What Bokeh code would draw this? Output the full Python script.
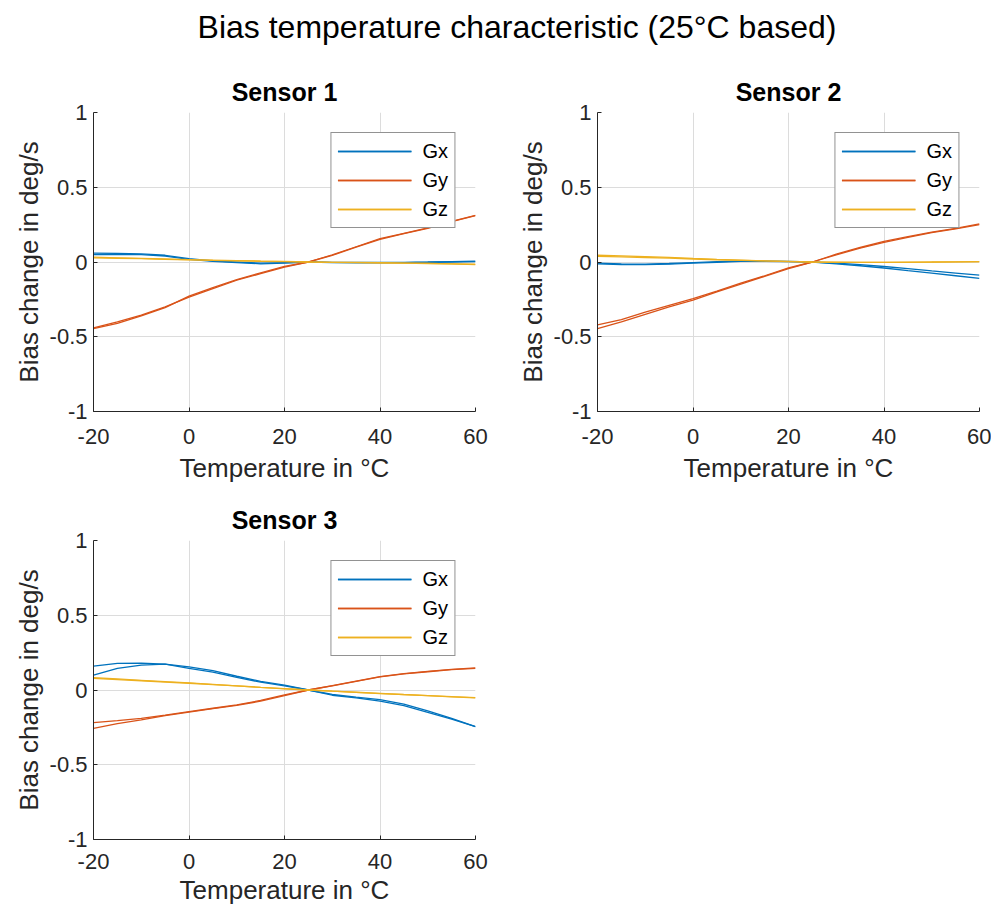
from bokeh.plotting import figure
from bokeh.models import Div, FixedTicker, Legend, LegendItem, Range1d
from bokeh.layouts import column, row
from bokeh.embed import file_html
from bokeh.resources import INLINE

# ---------------- data ----------------
temps = [-20, -15, -10, -5, 0, 5, 10, 15, 20, 25, 30, 35, 40, 45, 50, 55, 60]

# Sensor 1 (two runs each)
s1_gx_a = [0.060, 0.058, 0.055, 0.045, 0.022, 0.008, 0.000, -0.008, -0.004, 0.000, -0.002, -0.003, -0.003, -0.002, 0.000, 0.003, 0.006]
s1_gx_b = [0.050, 0.052, 0.050, 0.040, 0.018, 0.004, -0.004, -0.012, -0.008, 0.000, -0.004, -0.005, -0.005, -0.004, -0.002, 0.000, 0.003]
s1_gy_a = [-0.440, -0.400, -0.355, -0.300, -0.235, -0.178, -0.122, -0.078, -0.035, 0.000, 0.047, 0.102, 0.156, 0.192, 0.228, 0.272, 0.312]
s1_gy_b = [-0.445, -0.410, -0.360, -0.305, -0.228, -0.172, -0.118, -0.072, -0.030, 0.000, 0.045, 0.100, 0.152, 0.190, 0.225, 0.270, 0.310]
s1_gz_a = [0.032, 0.028, 0.024, 0.020, 0.016, 0.012, 0.009, 0.006, 0.004, 0.000, -0.002, -0.003, -0.005, -0.007, -0.009, -0.012, -0.015]
s1_gz_b = [0.028, 0.025, 0.022, 0.018, 0.014, 0.011, 0.008, 0.005, 0.003, 0.000, -0.002, -0.004, -0.006, -0.008, -0.010, -0.013, -0.017]

# Sensor 2
s2_gx_a = [-0.008, -0.012, -0.014, -0.010, -0.004, 0.002, 0.006, 0.006, 0.004, 0.000, -0.008, -0.018, -0.030, -0.045, -0.060, -0.074, -0.088]
s2_gx_b = [-0.012, -0.018, -0.018, -0.014, -0.008, -0.002, 0.004, 0.004, 0.003, 0.000, -0.012, -0.025, -0.040, -0.058, -0.075, -0.092, -0.110]
s2_gy_a = [-0.420, -0.385, -0.335, -0.290, -0.245, -0.195, -0.142, -0.092, -0.040, 0.000, 0.052, 0.097, 0.138, 0.170, 0.200, 0.225, 0.255]
s2_gy_b = [-0.445, -0.400, -0.350, -0.300, -0.255, -0.200, -0.148, -0.096, -0.044, 0.000, 0.048, 0.093, 0.132, 0.165, 0.196, 0.222, 0.250]
s2_gz_a = [0.045, 0.041, 0.036, 0.031, 0.024, 0.018, 0.013, 0.008, 0.004, 0.000, -0.002, -0.003, -0.003, -0.002, -0.001, 0.001, 0.002]
s2_gz_b = [0.038, 0.034, 0.030, 0.026, 0.020, 0.015, 0.011, 0.007, 0.003, 0.000, -0.001, -0.002, -0.002, -0.001, 0.000, 0.001, 0.002]

# Sensor 3
s3_gx_a = [0.160, 0.178, 0.180, 0.173, 0.155, 0.130, 0.092, 0.058, 0.033, 0.000, -0.030, -0.048, -0.065, -0.095, -0.140, -0.190, -0.245]
s3_gx_b = [0.100, 0.145, 0.167, 0.173, 0.145, 0.120, 0.085, 0.052, 0.028, 0.000, -0.035, -0.052, -0.075, -0.105, -0.150, -0.195, -0.245]
s3_gy_a = [-0.218, -0.205, -0.190, -0.168, -0.145, -0.122, -0.100, -0.070, -0.033, 0.000, 0.030, 0.060, 0.090, 0.110, 0.125, 0.138, 0.148]
s3_gy_b = [-0.256, -0.225, -0.200, -0.172, -0.148, -0.125, -0.103, -0.075, -0.038, 0.000, 0.028, 0.058, 0.088, 0.108, 0.122, 0.136, 0.145]
s3_gz_a = [0.082, 0.074, 0.065, 0.056, 0.047, 0.038, 0.028, 0.018, 0.009, 0.000, -0.008, -0.015, -0.022, -0.030, -0.037, -0.044, -0.051]
s3_gz_b = [0.078, 0.070, 0.062, 0.053, 0.045, 0.036, 0.027, 0.017, 0.008, 0.000, -0.008, -0.016, -0.024, -0.031, -0.038, -0.046, -0.053]

series_names = ["Gx", "Gy", "Gz"]
colors = ["#0072BD", "#D95319", "#EDB120"]
x_ticks = [-20, 0, 20, 40, 60]
x_tick_labels = ["-20", "0", "20", "40", "60"]
y_ticks = [-1, -0.5, 0, 0.5, 1]
y_tick_labels = ["-1", "-0.5", "0", "0.5", "1"]

FONT = "Liberation Sans"
TXT = "#262626"


def make(title, runs, tb, bb, lb, rb, tick_standoff, ax_standoff):
    p = figure(width=lb + 382 + rb, height=tb + 299 + bb,
               x_range=Range1d(-20, 60), y_range=Range1d(-1, 1),
               output_backend="svg", toolbar_location=None,
               min_border_left=lb, min_border_right=rb,
               min_border_top=tb, min_border_bottom=bb)
    p.title.text = title
    p.title.align = "center"
    p.title.text_font = FONT
    p.title.text_font_size = "25px"
    p.title.text_font_style = "bold"
    p.title.text_color = "#000000"
    p.title.standoff = 14
    p.outline_line_color = None
    p.background_fill_color = "white"
    p.border_fill_color = "white"

    p.xaxis.ticker = FixedTicker(ticks=x_ticks)
    p.xaxis.major_label_overrides = {v: s for v, s in zip(x_ticks, x_tick_labels)}
    p.yaxis.ticker = FixedTicker(ticks=y_ticks)
    p.yaxis.major_label_overrides = {v: s for v, s in zip(y_ticks, y_tick_labels)}
    for ax in (p.xaxis[0], p.yaxis[0]):
        ax.major_tick_in = 4
        ax.major_tick_out = 0
        ax.minor_tick_line_color = None
        ax.axis_line_color = TXT
        ax.major_tick_line_color = TXT
        ax.major_label_text_font = FONT
        ax.major_label_text_font_size = "22px"
        ax.major_label_text_color = TXT
        ax.axis_label_text_font = FONT
        ax.axis_label_text_font_size = "26px"
        ax.axis_label_text_font_style = "normal"
        ax.axis_label_text_color = TXT
    p.xaxis.axis_label = "Temperature in °C"
    p.yaxis.axis_label = "Bias change in deg/s"
    p.xaxis.major_label_standoff = tick_standoff
    p.xaxis.axis_label_standoff = ax_standoff
    p.yaxis.major_label_standoff = 6
    p.yaxis.axis_label_standoff = 3
    p.grid.grid_line_color = "#dcdcdc"
    p.grid.grid_line_width = 1

    items = []
    for name, color, (ya, yb) in zip(series_names, colors, runs):
        ra = p.line(temps, ya, line_color=color, line_width=1.3)
        rb_ = p.line(temps, yb, line_color=color, line_width=1.3)
        items.append(LegendItem(label=name, renderers=[ra, rb_]))
    leg = Legend(items=items, location="top_right", margin=20,
                 padding=6, spacing=5, glyph_width=74, glyph_height=24,
                 label_height=24, label_standoff=11,
                 label_text_font=FONT, label_text_font_size="20px",
                 label_text_color="#000000",
                 border_line_color=TXT, border_line_width=1,
                 background_fill_color="white", background_fill_alpha=1.0)
    p.add_layout(leg, "center")
    return p


p1 = make("Sensor 1", [(s1_gx_a, s1_gx_b), (s1_gy_a, s1_gy_b), (s1_gz_a, s1_gz_b)],
          tb=58, bb=79, lb=93, rb=29, tick_standoff=17, ax_standoff=6)
p2 = make("Sensor 2", [(s2_gx_a, s2_gx_b), (s2_gy_a, s2_gy_b), (s2_gz_a, s2_gz_b)],
          tb=58, bb=79, lb=93, rb=12, tick_standoff=17, ax_standoff=6)
p3 = make("Sensor 3", [(s3_gx_a, s3_gx_b), (s3_gy_a, s3_gy_b), (s3_gz_a, s3_gz_b)],
          tb=50, bb=73, lb=93, rb=29, tick_standoff=14, ax_standoff=3)

head = Div(text="Bias temperature characteristic (25°C based)", width=990, height=54,
           margin=0,
           styles={"text-align": "center", "font-size": "32px", "font-family": FONT,
                   "line-height": "54px", "color": "#000000", "width": "990px",
                   "padding-left": "44px", "box-sizing": "border-box"})

layout = column(head, row(p1, p2, spacing=0), p3, spacing=0)

with open("out.html", "w") as f:
    f.write(file_html(layout, INLINE))
